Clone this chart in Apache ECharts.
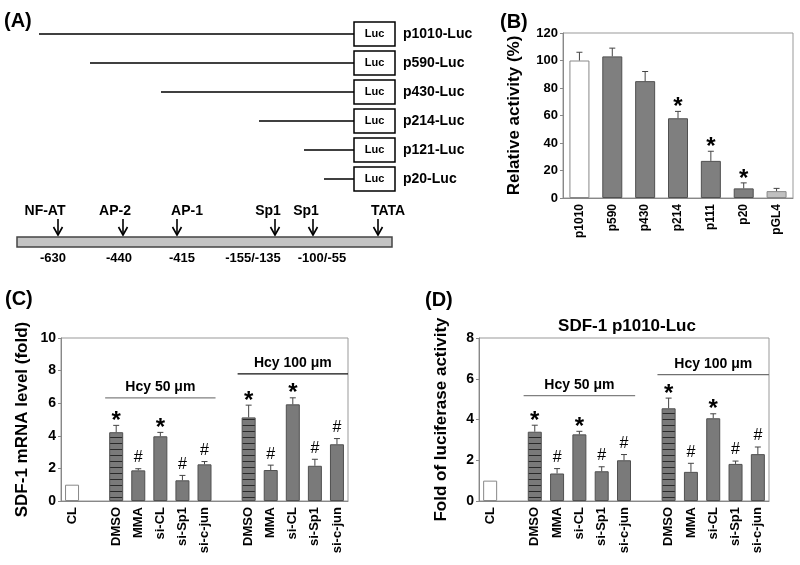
<!DOCTYPE html>
<html>
<head>
<meta charset="utf-8">
<script src="https://cdn.jsdelivr.net/npm/echarts@6/dist/echarts.min.js"></script>
<style>
  html, body { margin: 0; padding: 0; background: #fff; }
  #main { width: 800px; height: 565px; }
</style>
</head>
<body>
<div id="main"></div>
<script>
// PANEL A - promoter constructs and binding sites
var constructNames = ['p1010-Luc', 'p590-Luc', 'p430-Luc', 'p214-Luc', 'p121-Luc', 'p20-Luc'];
var siteNames = ['NF-AT', 'AP-2', 'AP-1', 'Sp1', 'Sp1', 'TATA'];
var sitePositions = ['-630', '-440', '-415', '-155/-135', '-100/-55'];

// PANEL B - deletion constructs
var catsB = ['p1010', 'p590', 'p430', 'p214', 'p111', 'p20', 'pGL4'];
var valsB = [100, 103, 85, 58, 27, 7, 5];
var errB = [6, 6, 7, 5, 7, 4, 2];
var sigB = ['', '', '', '*', '*', '*', ''];

// PANELS C and D - Hcy treatments (empty slots are gaps)
var catsCD = ['CL', '', 'DMSO', 'MMA', 'si-CL', 'si-Sp1', 'si-c-jun', '', 'DMSO', 'MMA', 'si-CL', 'si-Sp1', 'si-c-jun'];
var kindCD = ['open', '', 'striped', 'solid', 'solid', 'solid', 'solid', '', 'striped', 'solid', 'solid', 'solid', 'solid'];
var sigCD = ['', '', '*', '#', '*', '#', '#', '', '*', '#', '*', '#', '#'];
var valsC = [1.0, null, 4.22, 1.88, 3.97, 1.27, 2.25, null, 5.13, 1.9, 5.93, 2.16, 3.48];
var errC = [0, null, 0.42, 0.1, 0.24, 0.3, 0.17, null, 0.75, 0.3, 0.4, 0.4, 0.35];
var valsD = [1.0, null, 3.40, 1.35, 3.27, 1.46, 2.0, null, 4.55, 1.43, 4.06, 1.82, 2.30];
var errD = [0, null, 0.32, 0.24, 0.15, 0.22, 0.28, null, 0.5, 0.42, 0.22, 0.14, 0.35];

// treatment groups (first / last category index, bracket level in axis units)
var groupLabels = ['Hcy 50 \u03bcm', 'Hcy 100 \u03bcm'];
var groupFrom = [2, 8];
var groupTo = [6, 12];
var groupLevelC = [6.33, 7.8];
var groupLevelD = [5.17, 6.2];

var FONT = '"Liberation Sans", Arial, sans-serif';

// layout of the schematic (pixels)
var schema = {
  rowY: 34, rowStep: 29, lineStart: [39, 90, 161, 259, 304, 324],
  boxX: 354, boxW: 41, boxH: 24, labelX: 403,
  siteTextX: [45, 115, 187, 268, 306, 388], siteArrowX: [58, 123, 177, 275, 313, 378],
  posTextX: [53, 119, 182, 253, 322]
};

function txt(x, y, s, size, opts) {
  opts = opts || {};
  return {
    type: 'text', x: x, y: y, rotation: opts.rotation || 0, silent: true,
    style: {
      text: s, font: (opts.weight || 'bold') + ' ' + size + 'px ' + FONT,
      fill: opts.color || '#000', align: opts.align || 'center', verticalAlign: 'middle'
    }
  };
}

function buildSchema() {
  var g = [];
  g.push(txt(4, 21, '(A)', 20, { align: 'left' }));
  constructNames.forEach(function (name, i) {
    var y = schema.rowY + i * schema.rowStep;
    g.push({ type: 'line', silent: true, shape: { x1: schema.lineStart[i], y1: y, x2: schema.boxX, y2: y }, style: { stroke: '#000', lineWidth: 1.5 } });
    g.push({ type: 'rect', silent: true, shape: { x: schema.boxX, y: y - 12, width: schema.boxW, height: schema.boxH }, style: { fill: '#fff', stroke: '#000', lineWidth: 1.5 } });
    g.push(txt(schema.boxX + schema.boxW / 2, y, 'Luc', 11));
    g.push(txt(schema.labelX, y, name, 14, { align: 'left' }));
  });
  siteNames.forEach(function (name, i) {
    var ax = schema.siteArrowX[i];
    g.push(txt(schema.siteTextX[i], 211, name, 14));
    g.push({ type: 'line', silent: true, shape: { x1: ax, y1: 219, x2: ax, y2: 235 }, style: { stroke: '#000', lineWidth: 1.6 } });
    g.push({ type: 'polyline', silent: true, shape: { points: [[ax - 4.5, 227], [ax, 235], [ax + 4.5, 227]] }, style: { stroke: '#000', lineWidth: 1.6, fill: null } });
  });
  g.push({ type: 'rect', silent: true, shape: { x: 17, y: 237, width: 375, height: 10 }, style: { fill: '#c4c4c4', stroke: '#444', lineWidth: 1.5 } });
  sitePositions.forEach(function (p, i) {
    g.push(txt(schema.posTextX[i], 258, p, 13));
  });
  g.push(txt(500, 22, '(B)', 20, { align: 'left' }));
  g.push(txt(5, 299, '(C)', 20, { align: 'left' }));
  g.push(txt(425, 300, '(D)', 20, { align: 'left' }));
  g.push(txt(627, 326, 'SDF-1 p1010-Luc', 17));
  return g;
}

// horizontal striped fill for DMSO bars
function stripePattern() {
  var c = document.createElement('canvas');
  c.width = 8; c.height = 6;
  var ctx = c.getContext('2d');
  ctx.fillStyle = '#7a7a7a';
  ctx.fillRect(0, 0, 8, 6);
  ctx.fillStyle = '#2a2a2a';
  ctx.fillRect(0, 5, 8, 1);
  return { image: c, repeat: 'repeat' };
}
var STRIPES = stripePattern();

function barItemsB() {
  return valsB.map(function (v, i) {
    var col = '#7f7f7f', border = '#505050';
    if (i === 0) { col = '#fff'; border = '#888'; }
    if (i === valsB.length - 1) { col = '#c0c0c0'; border = '#888'; }
    return { value: v, itemStyle: { color: col, borderColor: border, borderWidth: 1 } };
  });
}

function barItemsCD(vals) {
  return vals.map(function (v, i) {
    if (v === null) return '-';
    var k = kindCD[i];
    var style = { color: '#7a7a7a', borderColor: '#505050', borderWidth: 1 };
    if (k === 'open') style = { color: '#fff', borderColor: '#888', borderWidth: 1 };
    if (k === 'striped') style = { color: STRIPES, borderColor: '#505050', borderWidth: 1 };
    return { value: v, itemStyle: style };
  });
}

// error bars plus significance marks
function errSeries(vals, errs, sigs, axisIdx) {
  var data = [], marks = [];
  vals.forEach(function (v, i) {
    if (v === null) return;
    data.push([i, v, v + errs[i]]);
    marks.push(sigs[i]);
  });
  return {
    type: 'custom', xAxisIndex: axisIdx, yAxisIndex: axisIdx, silent: true, z: 5,
    data: data,
    renderItem: function (params, api) {
      var i = api.value(0);
      var p0 = api.coord([i, api.value(1)]);
      var p1 = api.coord([i, api.value(2)]);
      var ch = [];
      if (api.value(2) > api.value(1)) {
        ch.push({ type: 'line', shape: { x1: p0[0], y1: p0[1], x2: p1[0], y2: p1[1] }, style: { stroke: '#444', lineWidth: 1 } });
        ch.push({ type: 'line', shape: { x1: p1[0] - 3, y1: p1[1], x2: p1[0] + 3, y2: p1[1] }, style: { stroke: '#444', lineWidth: 1 } });
      }
      var m = marks[params.dataIndex];
      if (m === '*') {
        ch.push({ type: 'text', x: p1[0], y: p1[1] - 4, style: { text: '*', font: 'bold 24px ' + FONT, fill: '#000', align: 'center', verticalAlign: 'middle' } });
      } else if (m === '#') {
        ch.push({ type: 'text', x: p1[0], y: p1[1] - 11, style: { text: '#', font: '16px ' + FONT, fill: '#000', align: 'center', verticalAlign: 'middle' } });
      }
      return { type: 'group', children: ch };
    }
  };
}

// Hcy brackets over the treatment groups
function groupSeries(levels, colors, axisIdx) {
  var data = groupLabels.map(function (l, i) { return [groupFrom[i], groupTo[i], levels[i]]; });
  return {
    type: 'custom', xAxisIndex: axisIdx, yAxisIndex: axisIdx, silent: true, z: 5,
    data: data,
    renderItem: function (params, api) {
      var band = api.size([1, 0])[0];
      var a = api.coord([api.value(0), api.value(2)]);
      var b = api.coord([api.value(1), api.value(2)]);
      var x1 = a[0] - band / 2, x2 = b[0] + band / 2;
      return {
        type: 'group', children: [
          { type: 'line', shape: { x1: x1, y1: a[1], x2: x2, y2: a[1] }, style: { stroke: colors[params.dataIndex], lineWidth: 1.3 } },
          { type: 'text', x: (x1 + x2) / 2, y: a[1] - 11, style: { text: groupLabels[params.dataIndex], font: 'bold 14px ' + FONT, fill: '#000', align: 'center', verticalAlign: 'middle' } }
        ]
      };
    }
  };
}

function xAx(idx, data, size) {
  return {
    type: 'category', gridIndex: idx, data: data,
    axisLine: { lineStyle: { color: '#888' } }, axisTick: { show: false },
    axisLabel: { interval: 0, rotate: 90, margin: 6, color: '#000', fontWeight: 'bold', fontSize: size, fontFamily: FONT }
  };
}

function yAx(idx, max, interval, name, gap, size) {
  return {
    type: 'value', gridIndex: idx, min: 0, max: max, interval: interval,
    name: name, nameLocation: 'middle', nameGap: gap,
    nameTextStyle: { color: '#000', fontWeight: 'bold', fontSize: 17, fontFamily: FONT },
    axisLine: { show: true, lineStyle: { color: '#888' } },
    axisTick: { show: true, length: 3, lineStyle: { color: '#888' } },
    splitLine: { show: false },
    axisLabel: { margin: 5, color: '#000', fontWeight: 'bold', fontSize: size, fontFamily: FONT }
  };
}

function main() {
  var myChart = echarts.init(document.getElementById('main'), null, { renderer: 'canvas' });
  var gridBase = { show: true, borderColor: '#999', borderWidth: 1, backgroundColor: 'transparent' };
  var option = {
    backgroundColor: '#fff',
    animation: false,
    graphic: buildSchema(),
    grid: [
      Object.assign({ left: 563, top: 33, width: 230, height: 165 }, gridBase),
      Object.assign({ left: 61, top: 338, width: 287, height: 163 }, gridBase),
      Object.assign({ left: 479, top: 338, width: 290, height: 163 }, gridBase)
    ],
    xAxis: [xAx(0, catsB, 12), xAx(1, catsCD, 13), xAx(2, catsCD, 13)],
    yAxis: [
      yAx(0, 120, 20, 'Relative activity (%)', 40, 13),
      yAx(1, 10, 2, 'SDF-1 mRNA level (fold)', 30, 14),
      yAx(2, 8, 2, 'Fold of luciferase activity', 29, 14)
    ],
    series: [
      { type: 'bar', xAxisIndex: 0, yAxisIndex: 0, barWidth: 20, data: barItemsB(), silent: true },
      errSeries(valsB, errB, sigB, 0),
      { type: 'bar', xAxisIndex: 1, yAxisIndex: 1, barWidth: 14, data: barItemsCD(valsC), silent: true },
      errSeries(valsC, errC, sigCD, 1),
      groupSeries(groupLevelC, ['#808080', '#111'], 1),
      { type: 'bar', xAxisIndex: 2, yAxisIndex: 2, barWidth: 14, data: barItemsCD(valsD), silent: true },
      errSeries(valsD, errD, sigCD, 2),
      groupSeries(groupLevelD, ['#808080', '#707070'], 2)
    ]
  };
  myChart.setOption(option);
}

main();
</script>
</body>
</html>
